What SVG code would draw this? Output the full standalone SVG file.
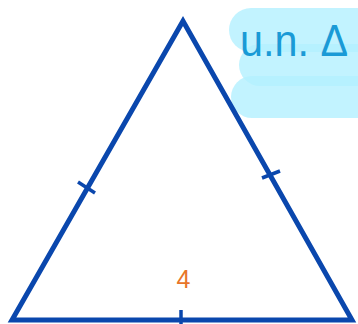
<svg xmlns="http://www.w3.org/2000/svg" width="358" height="324" viewBox="0 0 358 324">
<style>
.hl{fill:#b3f0ff;fill-opacity:0.8}
.edge{fill:none;stroke:#0a47ad;stroke-width:5;stroke-linejoin:miter}
.tick{stroke:#0a47ad;stroke-width:3.5;stroke-linecap:butt}
.note{font-family:"Liberation Sans",sans-serif;fill:#1a9ad6}
.lbl{font-family:"Liberation Sans",sans-serif;fill:#e8752a;font-size:25px}
</style>
<rect width="358" height="324" fill="#ffffff"/>
<g id="highlight">
<rect class="hl" x="229" y="8" width="150" height="44" rx="22"/>
<rect class="hl" x="239" y="44" width="140" height="42" rx="21"/>
<rect class="hl" x="231" y="76" width="150" height="42" rx="21"/>
</g>
<g id="note">
<text class="note" x="240" y="56" font-size="44" textLength="108" lengthAdjust="spacingAndGlyphs">u.n. Δ</text>
</g>
<g id="triangle"><polygon class="edge" points="183,21 12,320 352,320"/></g>
<g id="connectors">
<line class="tick" x1="78" y1="182" x2="95" y2="193"/>
<line class="tick" x1="262" y1="178" x2="280" y2="171"/>
<line class="tick" x1="181" y1="310" x2="181" y2="324"/>
</g>
<g id="label"><text class="lbl" x="183.5" y="288" text-anchor="middle">4</text></g>
</svg>
